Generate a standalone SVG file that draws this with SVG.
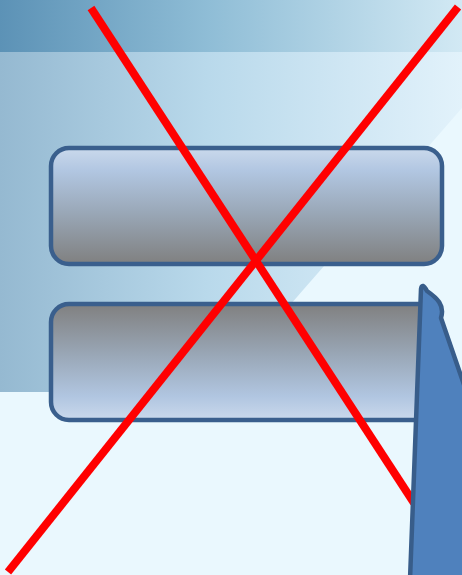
<svg xmlns="http://www.w3.org/2000/svg" width="462" height="575" viewBox="0 0 462 575">
  <defs>
    <linearGradient id="topBand" x1="0" y1="0" x2="1" y2="0">
      <stop offset="0" stop-color="#5c92b6"/>
      <stop offset="0.45" stop-color="#8fbdd6"/>
      <stop offset="1" stop-color="#d2e9f4"/>
    </linearGradient>
    <linearGradient id="midBand" x1="0" y1="0" x2="1" y2="0">
      <stop offset="0" stop-color="#95b9d1"/>
      <stop offset="0.45" stop-color="#b9d9eb"/>
      <stop offset="1" stop-color="#e2f2fb"/>
    </linearGradient>
    <linearGradient id="boxDown" x1="0" y1="0" x2="0" y2="1">
      <stop offset="0" stop-color="#cad9ec"/>
      <stop offset="0.2" stop-color="#b1c6e1"/>
      <stop offset="0.55" stop-color="#9aa8b8"/>
      <stop offset="1" stop-color="#808080"/>
    </linearGradient>
    <linearGradient id="boxUp" x1="0" y1="1" x2="0" y2="0">
      <stop offset="0" stop-color="#cad9ec"/>
      <stop offset="0.2" stop-color="#b1c6e1"/>
      <stop offset="0.55" stop-color="#9aa8b8"/>
      <stop offset="1" stop-color="#808080"/>
    </linearGradient>
    <style>
      .box { stroke: #3a5f8d; stroke-width: 4.5; }
      .cross { stroke: #ff0000; stroke-width: 8; fill: none; }
      .pointer { fill: #4f81bd; stroke: #385d8a; stroke-width: 4.5; stroke-linejoin: round; }
    </style>
  </defs>

  <g id="background">
    <rect x="0" y="0" width="462" height="575" fill="#eaf8fe"/>
    <polygon points="0,52 462,52 462,108 214,392 0,392" fill="url(#midBand)"/>
    <rect x="0" y="0" width="462" height="52" fill="url(#topBand)"/>
  </g>

  <g id="box1">
    <rect class="box" x="51" y="148" width="391" height="116" rx="18" fill="url(#boxDown)"/>
  </g>

  <g id="box2">
    <rect class="box" x="51" y="304" width="385" height="116" rx="18" fill="url(#boxUp)"/>
  </g>

  <g id="connectors">
    <line class="cross" x1="91" y1="8" x2="414" y2="503"/>
    <line class="cross" x1="458" y1="7" x2="8" y2="572"/>
  </g>

  <g id="pointer">
    <path class="pointer" d="M410,580 L421,289 Q422,282 427,291 C437,298 445,305 441,318 L470,402 L470,580 Z"/>
  </g>
</svg>
